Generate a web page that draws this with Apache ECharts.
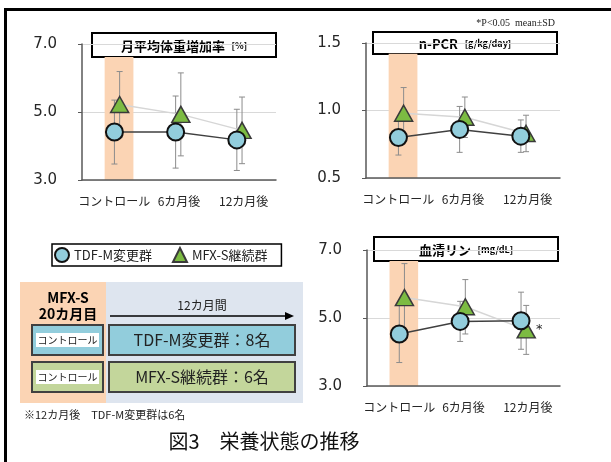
<!DOCTYPE html>
<html>
<head>
<meta charset="utf-8">
<style>
  html, body { margin: 0; padding: 0; background: #fff; }
  #main { width: 611px; height: 462px; }
</style>
<script src="https://cdn.jsdelivr.net/npm/echarts@6/dist/echarts.min.js"></script>
</head>
<body>
<div id="main"></div>
<script>
var categories = ["コントロール", "6カ月後", "12カ月後"]
var groups = ["TDF-M変更群", "MFX-S継続群"]

// 月平均体重増加率 [%]
var weightTdfMean = [4.41, 4.41, 4.18]
var weightTdfSd = [0.94, 1.06, 0.9]
var weightMfxMean = [5.22, 4.93, 4.46]
var weightMfxSd = [0.97, 1.22, 0.98]

// n-PCR [g/kg/day]
var pcrTdfMean = [0.8, 0.86, 0.81]
var pcrTdfSd = [0.13, 0.17, 0.12]
var pcrMfxMean = [0.98, 0.95, 0.83]
var pcrMfxSd = [0.19, 0.15, 0.135]

// 血清リン [mg/dL]
var phosTdfMean = [4.53, 4.9, 4.92]
var phosTdfSd = [0.84, 0.59, 0.84]
var phosMfxMean = [5.6, 5.33, 4.65]
var phosMfxSd = [1.0, 0.8, 0.72]
var phosMfxSig = [false, false, true]

var FONT = "'Noto Sans CJK JP', sans-serif"
var chart = echarts.init(document.getElementById("main"), null, { renderer: "canvas" })

// small side shift so circles and triangles don't sit on top of each other
var TDF_SHIFT = -0.04
var MFX_SHIFT = 0.045

function errorBarItem(params, api) {
  var x = api.value(0)
  var lo = api.coord([x, api.value(1)])
  var hi = api.coord([x, api.value(2)])
  var w = 3
  var style = { stroke: "#8c8c8c", lineWidth: 1 }
  return {
    type: "group",
    children: [
      { type: "line", shape: { x1: hi[0], y1: hi[1], x2: lo[0], y2: lo[1] }, style: style },
      { type: "line", shape: { x1: hi[0] - w, y1: hi[1], x2: hi[0] + w, y2: hi[1] }, style: style },
      { type: "line", shape: { x1: lo[0] - w, y1: lo[1], x2: lo[0] + w, y2: lo[1] }, style: style },
    ],
  }
}

// orange band marking the control period
function bandItem(params, api) {
  var a = api.coord([api.value(0), api.value(3)])
  var b = api.coord([api.value(1), api.value(2)])
  return {
    type: "rect",
    shape: { x: a[0], y: a[1], width: b[0] - a[0], height: b[1] - a[1] },
    style: { fill: "#fbd4b4" },
  }
}

function points(mean, shift) {
  return mean.map(function (v, i) { return [i + shift, v] })
}
function bars(mean, sd, shift) {
  return mean.map(function (v, i) { return [i + shift, v - sd[i], v + sd[i]] })
}

var grids = [
  { left: 82, top: 44, width: 194, height: 136 },
  { left: 366, top: 43, width: 194, height: 135 },
  { left: 367, top: 250, width: 193, height: 136 },
]
// bandTop: where the orange control band stops, just under each title box
var panels = [
  { min: 3, max: 7, interval: 2, bandTop: 6.62, tdf: weightTdfMean, tdfSd: weightTdfSd, mfx: weightMfxMean, mfxSd: weightMfxSd, sig: null },
  { min: 0.5, max: 1.5, interval: 0.5, bandTop: 1.42, tdf: pcrTdfMean, tdfSd: pcrTdfSd, mfx: pcrMfxMean, mfxSd: pcrMfxSd, sig: null },
  { min: 3, max: 7, interval: 2, bandTop: 6.68, tdf: phosTdfMean, tdfSd: phosTdfSd, mfx: phosMfxMean, mfxSd: phosMfxSd, sig: phosMfxSig },
]

var xAxes = []
var yAxes = []
var series = []

panels.forEach(function (p, k) {
  xAxes.push({
    type: "category",
    gridIndex: k,
    data: categories,
    boundaryGap: true,
    axisLine: { onZero: false, lineStyle: { color: "#595959", width: 1.5 } },
    axisTick: { show: false },
    axisLabel: { interval: 0, fontSize: 12, color: "#262626", margin: 15, fontFamily: FONT },
  })
  xAxes.push({
    type: "value",
    gridIndex: k,
    min: -0.57,
    max: 2.6,
    show: false,
    axisLine: { onZero: false },
  })
  yAxes.push({
    type: "value",
    gridIndex: k,
    min: p.min,
    max: p.max,
    interval: p.interval,
    axisLine: { show: true, onZero: false, lineStyle: { color: "#595959", width: 1.5 } },
    axisTick: { show: true, length: 4, lineStyle: { color: "#595959" } },
    splitLine: { lineStyle: { color: "#d9d9d9", width: 1 } },
    axisLabel: {
      fontSize: 15,
      color: "#262626",
      margin: 25,
      fontFamily: "'DejaVu Sans', sans-serif",
      formatter: function (v) { return v.toFixed(1) },
    },
  })

  var vx = 2 * k + 1
  series.push({
    type: "custom",
    xAxisIndex: vx,
    yAxisIndex: k,
    z: 0,
    silent: true,
    renderItem: bandItem,
    encode: { x: [0, 1], y: [2, 3] },
    data: [[-0.2, 0.27, p.min, p.bandTop]],
  })
  series.push({
    type: "custom",
    xAxisIndex: vx,
    yAxisIndex: k,
    z: 1,
    silent: true,
    renderItem: errorBarItem,
    encode: { x: 0, y: [1, 2] },
    data: bars(p.mfx, p.mfxSd, MFX_SHIFT),
  })
  series.push({
    type: "custom",
    xAxisIndex: vx,
    yAxisIndex: k,
    z: 1,
    silent: true,
    renderItem: errorBarItem,
    encode: { x: 0, y: [1, 2] },
    data: bars(p.tdf, p.tdfSd, TDF_SHIFT),
  })
  var mfxData = points(p.mfx, MFX_SHIFT).map(function (d, i) {
    if (p.sig && p.sig[i]) {
      return {
        value: d,
        label: { show: true, position: "right", distance: 0, formatter: "*", fontSize: 13, color: "#262626", fontFamily: "'DejaVu Sans'" },
      }
    }
    return d
  })
  series.push({
    name: groups[1],
    type: "line",
    xAxisIndex: vx,
    yAxisIndex: k,
    z: 2,
    data: mfxData,
    symbol: "triangle",
    symbolSize: [18, 16],
    itemStyle: { color: "#7cbb42", borderColor: "#3a3a3a", borderWidth: 1.5 },
    lineStyle: { color: "#d6d6d6", width: 1.5 },
    animation: false,
  })
  series.push({
    name: groups[0],
    type: "line",
    xAxisIndex: vx,
    yAxisIndex: k,
    z: 3,
    data: points(p.tdf, TDF_SHIFT),
    symbol: "circle",
    symbolSize: 17,
    itemStyle: { color: "#92cddc", borderColor: "#111", borderWidth: 2 },
    lineStyle: { color: "#404040", width: 1.5 },
    animation: false,
  })
})

function titleBox(x, y, w, h, main, unit) {
  return {
    type: "group",
    z: 100,
    children: [
      { type: "rect", shape: { x: x, y: y, width: w, height: h }, style: { fill: "#fff", stroke: "#000", lineWidth: 2 } },
      {
        type: "text",
        x: x + w / 2,
        y: y + h / 2 + 1,
        style: {
          text: "{a|" + main + "}  {b|" + unit + "}",
          align: "center",
          verticalAlign: "middle",
          rich: {
            a: { fontSize: 13, fontWeight: "bold", fill: "#000", fontFamily: FONT },
            b: { fontSize: 9, fontWeight: "bold", fill: "#000", fontFamily: FONT },
          },
        },
      },
    ],
  }
}

function rowBox(y, fill, label) {
  return [
    { type: "rect", z: 100, shape: { x: 32, y: y, width: 71, height: 30 }, style: { fill: fill, stroke: "#404040", lineWidth: 2 } },
    { type: "rect", z: 100, shape: { x: 36, y: y + 8, width: 63, height: 14 }, style: { fill: "#fff" } },
    { type: "text", z: 100, x: 67.5, y: y + 15, style: { text: "コントロール", fontSize: 10, fill: "#222", align: "center", verticalAlign: "middle", fontFamily: FONT } },
    { type: "rect", z: 100, shape: { x: 109, y: y, width: 186, height: 30 }, style: { fill: fill, stroke: "#404040", lineWidth: 2 } },
    { type: "text", z: 100, x: 202, y: y + 15, style: { text: label, fontSize: 16, fill: "#222", align: "center", verticalAlign: "middle", fontFamily: FONT } },
  ]
}

var graphics = [
  { type: "rect", z: 100, shape: { x: 5.5, y: 9.5, width: 640, height: 480 }, style: { fill: null, stroke: "#000", lineWidth: 3 } },
  titleBox(92, 33, 184, 24, "月平均体重増加率", "[%]"),
  titleBox(373, 32, 184, 22, "n-PCR", "[g/kg/day]"),
  titleBox(374, 237, 184, 24, "血清リン", "[mg/dL]"),
  { type: "text", z: 100, x: 555, y: 23, style: { text: "*P<0.05  mean±SD", fontSize: 10, fill: "#222", align: "right", verticalAlign: "middle", fontFamily: "'Liberation Serif', serif" } },
  // study design diagram
  { type: "rect", z: 90, shape: { x: 20, y: 282, width: 86, height: 121 }, style: { fill: "#fbd4b4" } },
  { type: "rect", z: 90, shape: { x: 106, y: 282, width: 197, height: 121 }, style: { fill: "#dee5ef" } },
  { type: "text", z: 100, x: 68, y: 298, style: { text: "MFX-S", fontSize: 14, fontWeight: "bold", fill: "#000", align: "center", verticalAlign: "middle", fontFamily: FONT } },
  { type: "text", z: 100, x: 68, y: 314, style: { text: "20カ月目", fontSize: 14, fontWeight: "bold", fill: "#000", align: "center", verticalAlign: "middle", fontFamily: FONT } },
  { type: "text", z: 100, x: 202, y: 305, style: { text: "12カ月間", fontSize: 12, fill: "#222", align: "center", verticalAlign: "middle", fontFamily: FONT } },
  { type: "line", z: 100, shape: { x1: 110, y1: 316, x2: 290, y2: 316 }, style: { stroke: "#000", lineWidth: 1.5 } },
  { type: "polygon", z: 100, shape: { points: [[294, 316], [285, 312], [285, 320]] }, style: { fill: "#000" } },
  { type: "text", z: 100, x: 24, y: 415, style: { text: "※12カ月後　TDF-M変更群は6名", fontSize: 11, fill: "#222", align: "left", verticalAlign: "middle", fontFamily: FONT } },
  { type: "text", z: 100, x: 264, y: 441, style: { text: "図3　栄養状態の推移", fontSize: 20, fill: "#111", align: "center", verticalAlign: "middle", fontFamily: FONT } },
]
graphics = graphics.concat(rowBox(325, "#92cddc", "TDF-M変更群：8名"))
graphics = graphics.concat(rowBox(362, "#c3d69b", "MFX-S継続群：6名"))

var option = {
  animation: false,
  textStyle: { fontFamily: FONT },
  grid: grids,
  xAxis: xAxes,
  yAxis: yAxes,
  legend: {
    left: 52,
    top: 244,
    padding: [3, 14, 3, 2],
    itemGap: 20,
    itemWidth: 14,
    itemHeight: 14,
    borderColor: "#000",
    borderWidth: 1.5,
    borderRadius: 0,
    backgroundColor: "#fff",
    selectedMode: false,
    textStyle: { fontSize: 13, color: "#222", fontFamily: FONT },
    data: [
      { name: groups[0], icon: "circle" },
      { name: groups[1], icon: "triangle" },
    ],
  },
  graphic: graphics,
  series: series,
}

chart.setOption(option)
</script>
</body>
</html>
